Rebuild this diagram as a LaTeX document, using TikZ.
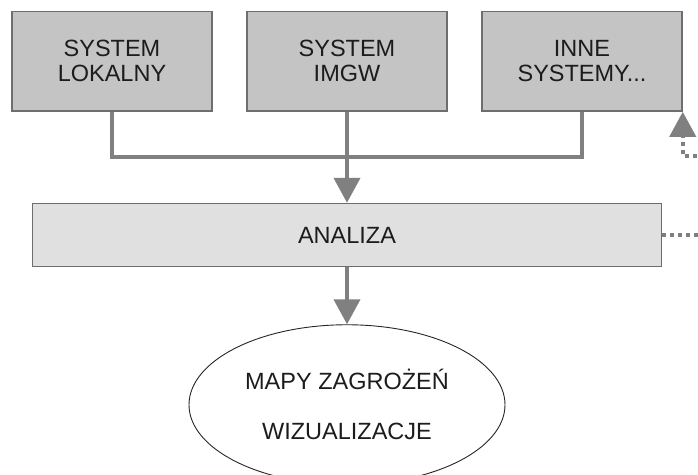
\documentclass[tikz,border=0pt]{standalone}
\usepackage{fontspec}
\setmainfont{Liberation Sans}
\usetikzlibrary{arrows.meta,positioning,shapes.geometric}
\definecolor{boxgray}{RGB}{196,196,196}
\definecolor{anagray}{RGB}{224,224,224}
\definecolor{linegray}{RGB}{128,128,128}
\definecolor{edgegray}{RGB}{110,110,110}
\definecolor{txt}{RGB}{28,28,28}
\begin{document}
\begin{tikzpicture}[x=1pt,y=-1pt,
  node distance=33.5pt, text=txt,
  src/.style={draw=edgegray,line width=1.5pt,fill=boxgray,minimum width=200pt,minimum height=99.5pt,
    align=center,font=\fontsize{23.5}{25}\selectfont},
  conn/.style={draw=linegray,line width=4pt},
  tip/.style={-{Triangle[width=26pt,length=25pt]}},
  dots/.style={conn,dash pattern=on 4pt off 4pt}]
\useasboundingbox (0,0) rectangle (698,474);
\clip (0,0) rectangle (698,474);
\node[src] (lok) at (112,61.3) {SYSTEM\\LOKALNY};
\node[src,right=of lok] (imgw) {SYSTEM\\IMGW};
\node[src,right=of imgw] (inne) {INNE\\SYSTEMY...};
\node[draw=edgegray,line width=1.5pt,fill=anagray,minimum width=629pt,minimum height=63pt,
  font=\fontsize{23.5}{25}\selectfont,below=91pt of imgw] (ana) {ANALIZA};
\node[ellipse,draw=black!85,line width=0.9pt,minimum width=316pt,minimum height=160pt,
  align=center,font=\fontsize{23.5}{50}\selectfont,below=57pt of ana] (mapy) {MAPY ZAGROŻEŃ\\WIZUALIZACJE};
\coordinate (hub) at ([yshift=-45pt]imgw.south);
\coordinate (ret) at (720,156);
\draw[conn] (lok.south) |- (hub) -| (inne.south);
\draw[conn,tip] (imgw.south) -- (ana.north);
\draw[conn,tip] (ana.south) -- (mapy.north);
\draw[dots,tip] (ana.east) -| (ret) -| (inne.south east);
\end{tikzpicture}
\end{document}
